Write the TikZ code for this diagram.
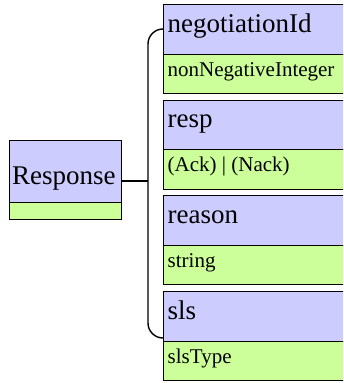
\documentclass[tikz,border=0pt]{standalone}
\usepackage{fontspec}
\setmainfont{Liberation Serif}
\newfontfamily\labelfont{Liberation Serif}
\begin{document}
\begin{tikzpicture}[x=1pt,y=-1pt,
  headbox/.style={draw=black,line width=1.4pt,fill=headfill,anchor=north west,inner sep=0pt,minimum width=#1},
  bodybox/.style={draw=black,line width=1.4pt,fill=bodyfill,anchor=north west,inner sep=0pt,minimum width=#1},
  titletext/.style={anchor=base west,inner sep=0pt,font=\labelfont\fontsize{27}{30}\selectfont},
  typetext/.style={anchor=base west,inner sep=0pt,font=\labelfont\fontsize{21}{24}\selectfont},
  wire/.style={draw=black,line width=1.4pt}]
\definecolor{headfill}{HTML}{CCCCFF}
\definecolor{bodyfill}{HTML}{CCFF99}
\useasboundingbox (0,0) rectangle (343,383);
\clip (0,0) rectangle (343,383);

% the element itself
\node[headbox=112pt,minimum height=62pt] (rhead) at (9,140) {};
\node[bodybox=112pt,minimum height=17pt] (rbody) at (9,202) {};
\node[titletext] (rname) at (12,184) {Response};

% its child elements, each a name box over a type box
\foreach \i/\top/\nm/\ty in {1/4/negotiationId/nonNegativeInteger,
                             2/99.5/resp/(Ack) | (Nack),
                             3/195/reason/string,
                             4/291/sls/slsType}{
  \node[headbox=190pt,minimum height=49.5pt] (h\i) at (163,\top) {};
  \node[bodybox=190pt,minimum height=39.5pt] (b\i) at (163,\top+49.5) {};
  \node[titletext] (n\i) at (167.5,\top+28) {\nm};
  \node[typetext] (t\i) at (167.5,\top+72) {\ty};
}

% sequence bracket joining the children
\coordinate (joint) at (148,181);
\draw[wire] (rhead.east |- joint) -- (joint);
\draw[wire,rounded corners=15pt] (h1.west |- 0,29) -- (148,29) -- (148,338) -- (b4.west |- 0,338);
\end{tikzpicture}
\end{document}
